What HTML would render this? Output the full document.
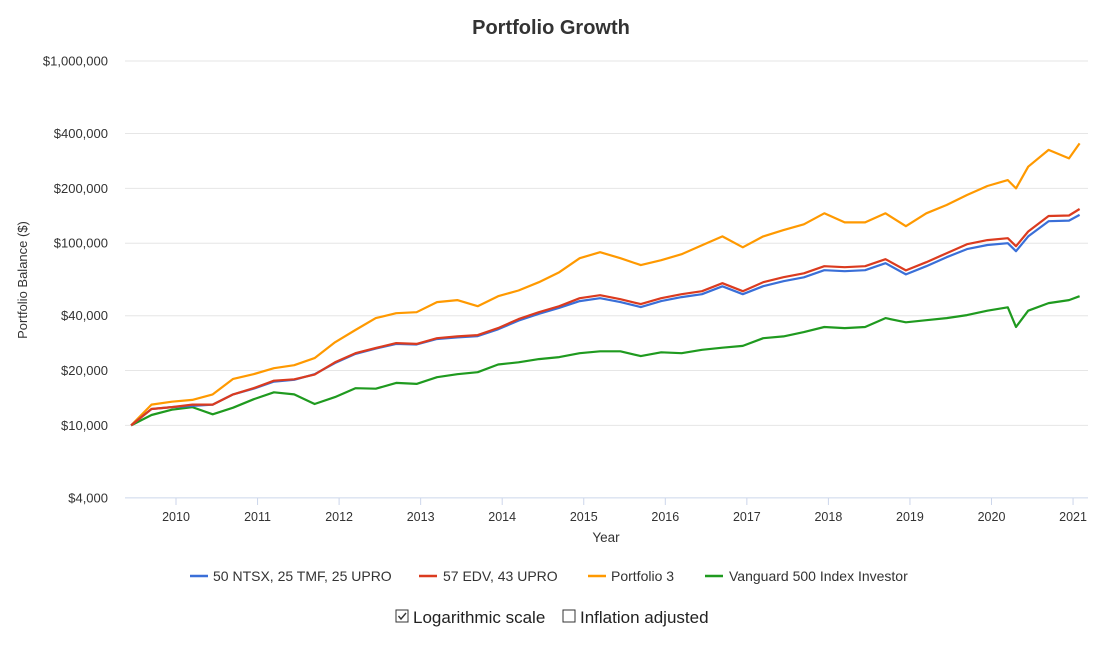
<!DOCTYPE html>
<html><head><meta charset="utf-8"><style>
body{margin:0;background:#fff;font-family:"Liberation Sans",Arial,sans-serif;}
svg text{font-family:"Liberation Sans",Arial,sans-serif;}
</style></head><body>
<svg id="chart" width="1117" height="640" xmlns="http://www.w3.org/2000/svg">
<text x="551" y="34" text-anchor="middle" font-size="20" font-weight="bold" fill="#333">Portfolio Growth</text>
<g id="grid"></g>
<g id="series"></g>
<text transform="translate(27,280) rotate(-90)" text-anchor="middle" font-size="13" fill="#333">Portfolio Balance ($)</text>
<text x="606" y="542" text-anchor="middle" font-size="13.5" fill="#333">Year</text>
<g font-size="14" fill="#333">
 <g><line x1="190" y1="576" x2="208" y2="576" stroke="#3a6fd8" stroke-width="2.5"/><text x="213" y="581">50 NTSX, 25 TMF, 25 UPRO</text></g>
 <g><line x1="419" y1="576" x2="437" y2="576" stroke="#db3b1f" stroke-width="2.5"/><text x="443" y="581">57 EDV, 43 UPRO</text></g>
 <g><line x1="588" y1="576" x2="606" y2="576" stroke="#ff9900" stroke-width="2.5"/><text x="611" y="581">Portfolio 3</text></g>
 <g><line x1="705" y1="576" x2="723" y2="576" stroke="#1f9a1f" stroke-width="2.5"/><text x="729" y="581">Vanguard 500 Index Investor</text></g>
</g>
<g><rect x="396" y="610" width="12" height="12" fill="#fff" stroke="#333" stroke-width="1"/><path d="M398.5 616 l2.5 3 l5 -6" stroke="#333" stroke-width="1.4" fill="none"/><text x="413" y="623" font-size="17" fill="#222">Logarithmic scale</text></g>
<g><rect x="563" y="610" width="12" height="12" fill="#fff" stroke="#333" stroke-width="1"/><text x="580" y="623" font-size="17" fill="#222">Inflation adjusted</text></g>
</svg>
<script>
const dates=[2009.45,2009.70,2009.95,2010.20,2010.45,2010.70,2010.95,2011.20,2011.45,2011.70,2011.95,2012.20,2012.45,2012.70,2012.95,2013.20,2013.45,2013.70,2013.95,2014.20,2014.45,2014.70,2014.95,2015.20,2015.45,2015.70,2015.95,2016.20,2016.45,2016.70,2016.95,2017.20,2017.45,2017.70,2017.95,2018.20,2018.45,2018.70,2018.95,2019.20,2019.45,2019.70,2019.95,2020.20,2020.30,2020.45,2020.70,2020.95,2021.08];
const ntsx=[10,12.3,12.6,12.8,13.0,14.8,15.9,17.4,17.8,19.1,22.0,24.7,26.4,28.0,27.8,29.8,30.4,30.9,33.7,37.6,41.0,44.2,48.1,49.9,47.5,44.6,48.1,50.6,52.5,58.0,52.5,58.1,61.9,65.0,71.1,70.2,71.1,77.7,67.4,74.8,83.8,92.8,97.7,100,90.4,109,132,133,143];
const edvUpro=[10,12.3,12.6,13.0,13.0,14.8,16.0,17.6,17.9,19.0,22.2,24.9,26.6,28.3,28.0,30.1,30.8,31.3,34.2,38.3,41.8,45.1,49.9,51.8,49.3,46.3,49.9,52.5,54.5,60.3,54.5,61.1,65.1,68.4,74.8,73.8,74.8,81.7,70.9,78.7,88.1,98.8,104,106.5,96.3,116,141,142,154];
const portfolio3=[10,13.0,13.5,13.8,14.8,18.0,19.1,20.6,21.4,23.4,28.6,33.4,38.8,41.3,41.8,47.5,48.7,45.1,51.2,55.0,61.1,69.3,82.7,89.3,82.7,75.8,80.7,87,97.5,109,95,109,118,127,146,130,130,146,124,146,162,184,206,222,200,263,325,292,353];
const vanguard=[10,11.4,12.2,12.6,11.5,12.5,13.9,15.2,14.8,13.1,14.3,16.0,15.9,17.1,16.9,18.4,19.1,19.6,21.6,22.2,23.1,23.7,24.9,25.5,25.5,24.0,25.2,24.9,26.0,26.7,27.3,30.1,30.8,32.5,34.7,34.2,34.7,38.8,36.8,37.8,38.8,40.3,42.6,44.5,34.7,42.6,46.9,48.7,51.2];
const yTicks=[1000000,400000,200000,100000,40000,20000,10000,4000];
const yTickLabels=["$1,000,000","$400,000","$200,000","$100,000","$40,000","$20,000","$10,000","$4,000"];
const xTicks=[2010,2011,2012,2013,2014,2015,2016,2017,2018,2019,2020,2021];

const NS="http://www.w3.org/2000/svg";
function xs(t){return 176+(t-2010)*81.55;}
function ys(v){return 61+(6-Math.log10(v))*182.2;}
function mk(tag,attrs,parent){const e=document.createElementNS(NS,tag);for(const k in attrs)e.setAttribute(k,attrs[k]);parent.appendChild(e);return e;}
const grid=document.getElementById('grid');
yTicks.forEach((v,i)=>{
  const y=ys(v);
  const l=mk('line',{x1:125,x2:1088,y1:y,y2:y,stroke:i===yTicks.length-1?'#ccd6eb':'#e6e6e6','stroke-width':1},grid);
  
  
  const t=mk('text',{x:108,y:y+4.5,'text-anchor':'end','font-size':13,fill:'#333'},grid);
  t.textContent=yTickLabels[i];
  
  
});
xTicks.forEach(yr=>{
  const x=xs(yr);
  const tk=mk('line',{x1:x,x2:x,y1:498,y2:505,stroke:'#ccd6eb'},grid);
  
  
  const t=mk('text',{x:x,y:521,'text-anchor':'middle','font-size':12.5,fill:'#333'},grid);
  t.textContent=String(yr);
  
  
});
const sg=document.getElementById('series');
function draw(vals,color,name){
  const d=vals.map((v,i)=>(i?'L':'M')+xs(dates[i]).toFixed(1)+' '+ys(v*1000).toFixed(1)).join(' ');
  const p=mk('path',{d:d,fill:'none',stroke:color,'stroke-width':2.2,'stroke-linejoin':'round'},sg);
  
  
}
draw(vanguard,'#1f9a1f','line-vanguard-500');
draw(portfolio3,'#ff9900','line-portfolio-3');
draw(ntsx,'#3a6fd8','line-ntsx-tmf-upro');
draw(edvUpro,'#db3b1f','line-edv-upro');
</script>
</body></html>
